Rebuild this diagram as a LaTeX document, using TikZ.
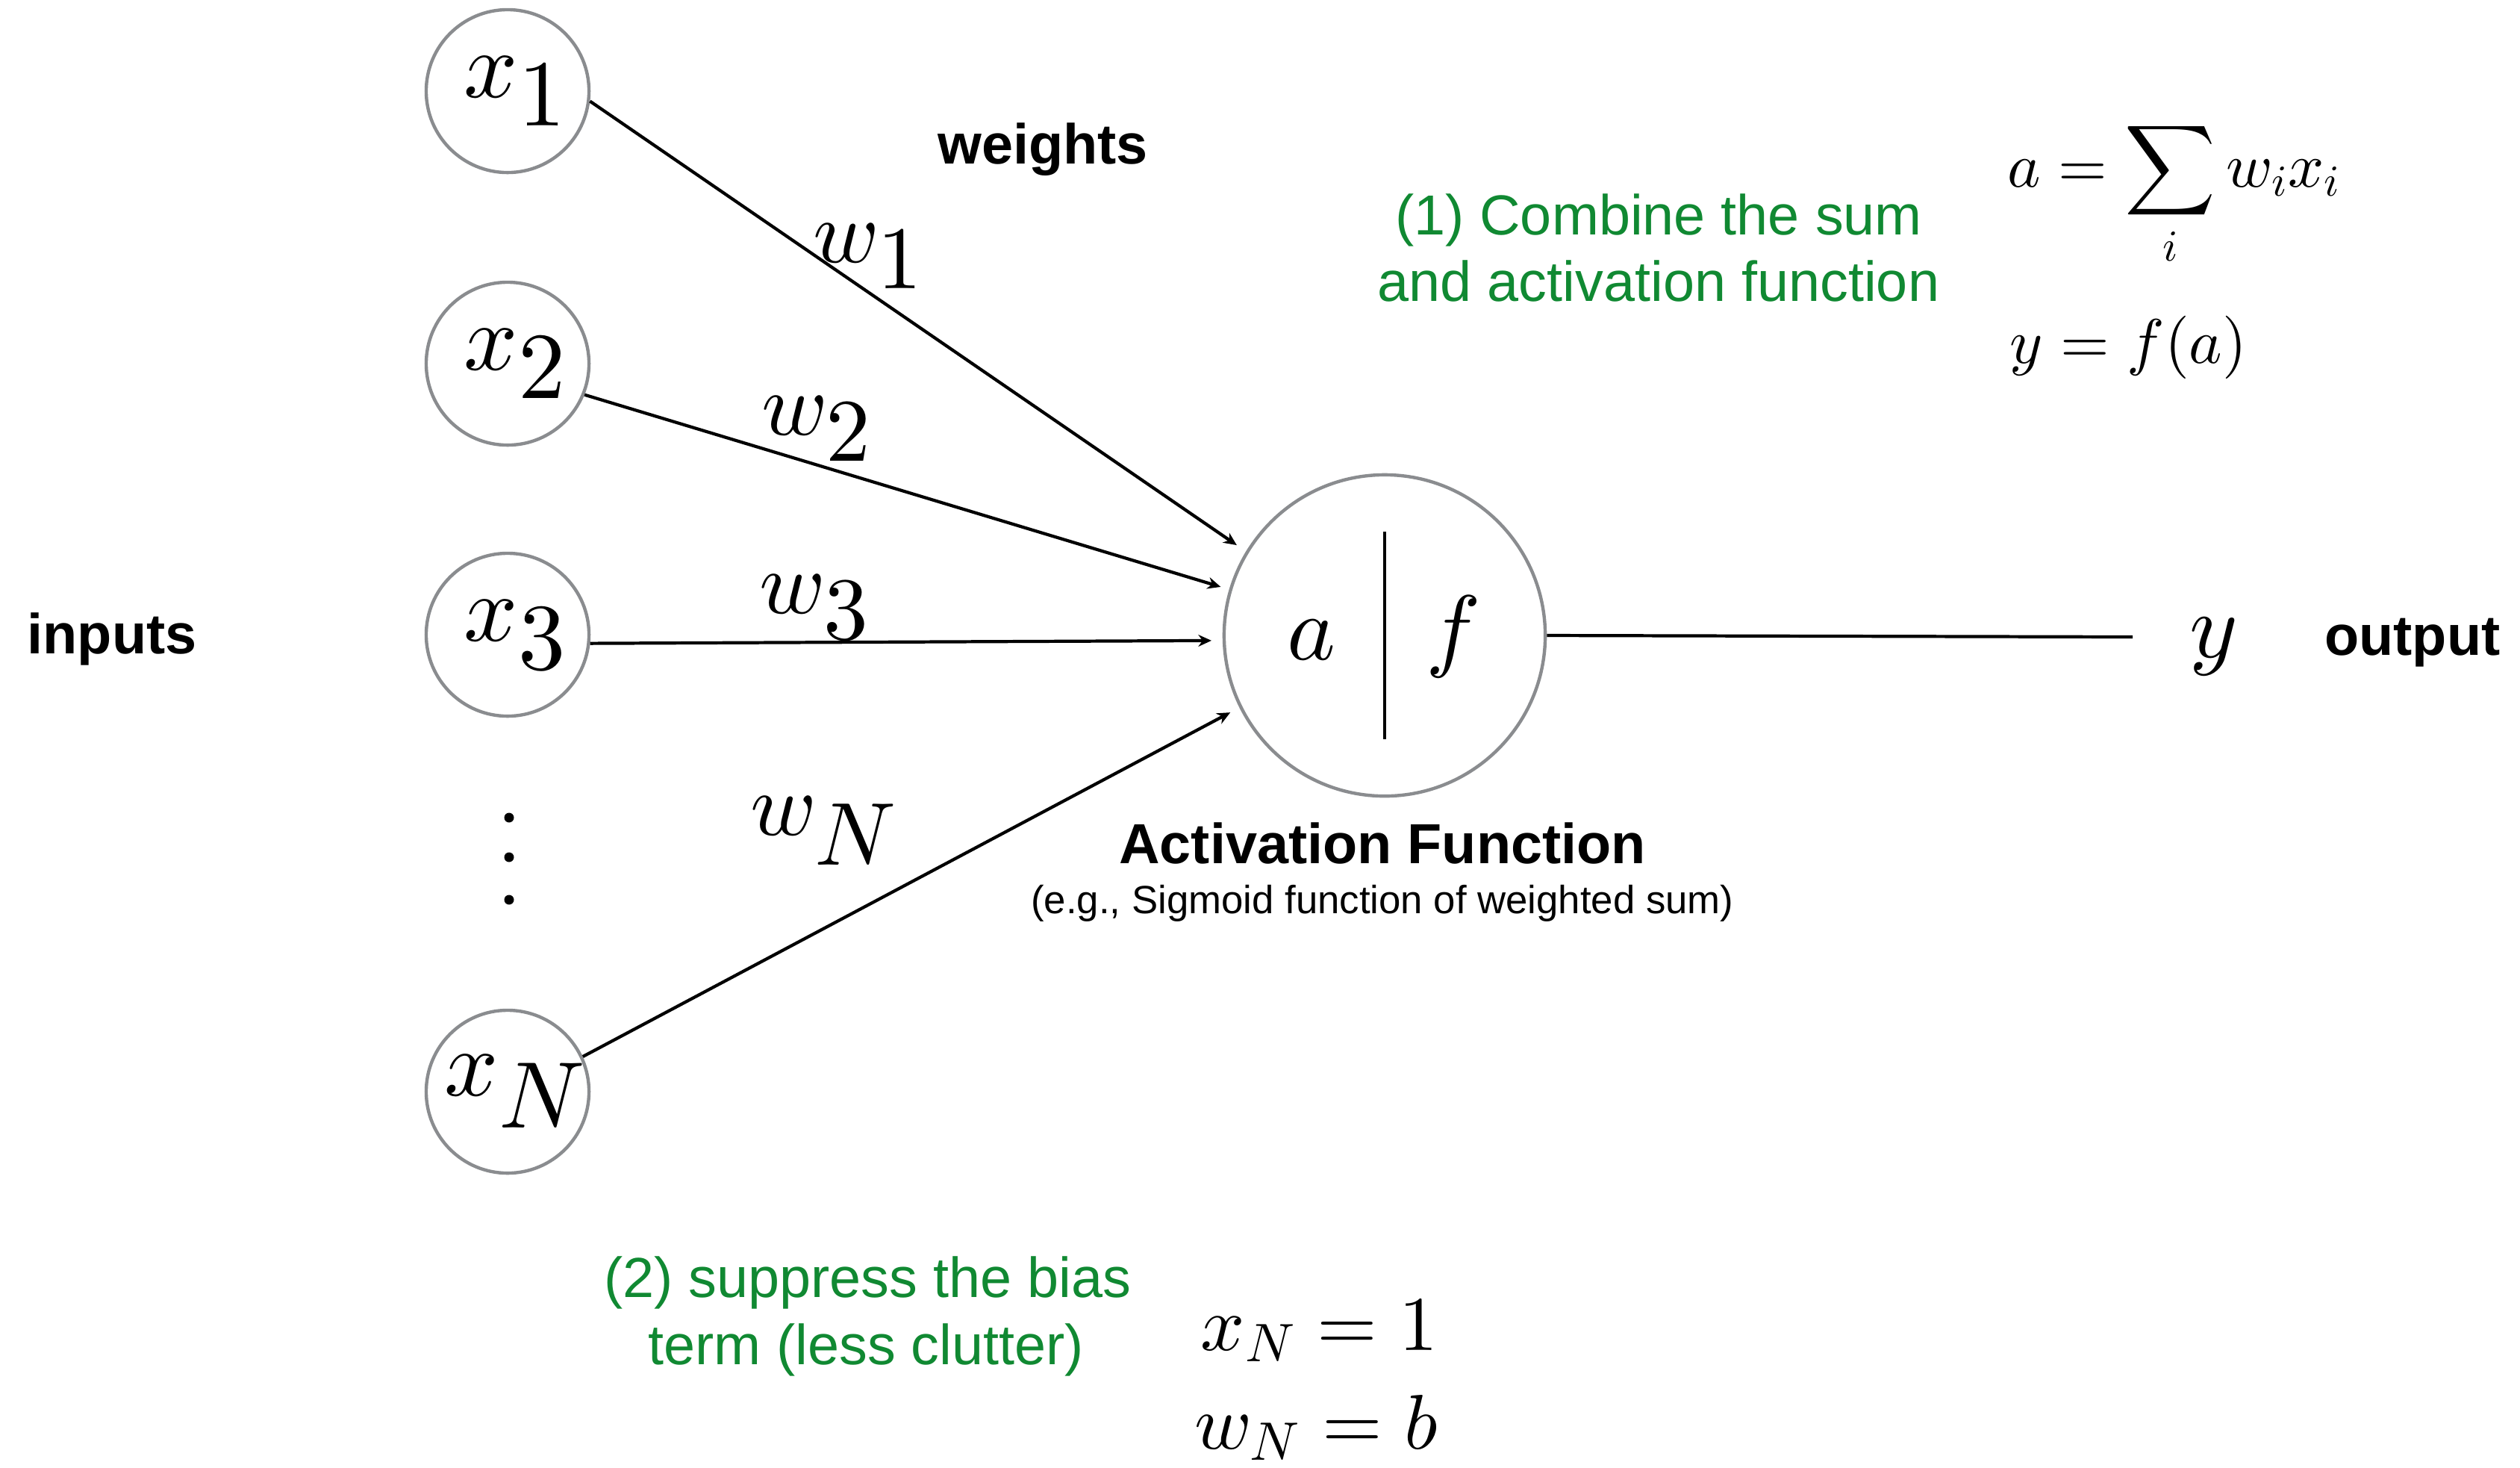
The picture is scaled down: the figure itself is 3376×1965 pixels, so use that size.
\documentclass[tikz,border=0pt]{standalone}
\usepackage{fontspec}
\setmainfont{Liberation Sans}
\DeclareFontShape{OML}{cmm}{m}{it}{<->cmmi10}{}
\DeclareFontShape{OMS}{cmsy}{m}{n}{<->cmsy10}{}
\DeclareFontShape{OMX}{cmex}{m}{n}{<->cmex10}{}
\DeclareFontShape{OT1}{cmr}{m}{n}{<->cmr10}{}
\usetikzlibrary{arrows.meta,calc}
\definecolor{cgray}{RGB}{138,140,143}
\definecolor{cgreen}{RGB}{16,137,50}
\newcommand{\inlab}[1]{\makebox[0pt][c]{$\mkern3mu x_{\textstyle #1}$}}
\begin{document}
\begin{tikzpicture}[x=0.01cm,y=-0.01cm,
  inp/.style={circle,draw=cgray,line width=1.25pt,minimum size=2.18cm,inner sep=0pt,font=\fontsize{36}{42}\selectfont},
  neuron/.style={circle,draw=cgray,line width=1.25pt,minimum size=4.3cm,inner sep=0pt},
  bigmath/.style={inner sep=0pt,font=\fontsize{35}{42}\selectfont},
  wl/.style={inner sep=0pt,font=\fontsize{34}{40}\selectfont},
  conn/.style={line width=1.2pt},
  arr/.style={line width=1.2pt,-{Stealth[length=5pt,width=4.5pt]}},
  lbl/.style={inner sep=0pt,font=\fontsize{21.5}{26}\selectfont\bfseries},
  subl/.style={inner sep=0pt,font=\fontsize{15}{18}\selectfont},
  grn/.style={inner sep=0pt,text=cgreen,font=\fontsize{21.5}{26}\selectfont},
  fml/.style={inner sep=0pt,font=\fontsize{24}{30}\selectfont},
  fmlb/.style={inner sep=0pt,font=\fontsize{29.5}{35}\selectfont}]
\useasboundingbox (0,0) rectangle (3376,1965);
% input nodes
\node[inp] (x1) at (680,122) {\inlab{1}};
\node[inp] (x2) at (680,487) {\inlab{2}};
\node[inp] (x3) at (680,850) {\inlab{3}};
\node[inp] (xN) at (680,1462) {\inlab{N}};
\foreach \yy in {1095,1148,1205} \fill (682,\yy) circle (0.065cm);
% neuron
\node[neuron] (n) at (1855,851) {};
\node[bigmath,anchor=base] (a) at (1757,883) {$a$};
\node[bigmath,anchor=base] (f) at (1947,883) {$f$};
\draw[conn] ($(n.center)+(0,-139)$) -- ($(n.center)+(0,139)$);
% output
\node[bigmath,anchor=base] (y) at (2966,880) {$y$};
\coordinate (oend) at (2857,853);
\draw[conn] (n.east) -- (oend);
% arrows
\draw[arr] (x1.-7.7) -- ($(n.center)+(148.6:2.32cm)$);
\draw[arr] (x2.-22.7) -- ($(n.center)+(163.5:2.29cm)$);
\draw[arr] (x3.-6.7) -- ($(n.center)+(181.7:2.32cm)$);
\draw[arr] (xN.25.4) -- ($(n.center)+(206.5:2.31cm)$);
% weight labels
\node[wl,anchor=base west] (w1) at (1089,351) {$w_{\textstyle 1}$};
\node[wl,anchor=base west] (w2) at (1020,582) {$w_{\textstyle 2}$};
\node[wl,anchor=base west] (w3) at (1017,821) {$w_{\textstyle 3}$};
\node[wl,anchor=base west] (wN) at (1005,1118) {$w_{\textstyle N}$};
% text labels
\node[lbl,anchor=base west] (inputs) at (36,875) {inputs};
\node[lbl,anchor=base east] (output) at (3350,877) {output};
\node[lbl,anchor=base] (weights) at (1397,219) {weights};
\node[lbl,anchor=base] (actf) at (1852,1156) {Activation Function};
\node[subl,anchor=base] (eg) at (1852,1223) {(e.g., Sigmoid function of weighted sum)};
\node[grn,anchor=base] (c1a) at (2222,314) {(1) Combine the sum};
\node[grn,anchor=base] (c1b) at (2222,403) {and activation function};
\node[grn,anchor=base] (c2a) at (1162,1737) {(2) suppress the bias};
\node[grn,anchor=base] (c2b) at (1160,1827) {term (less clutter)};
% formulas
\node[fml,anchor=base west] (fa) at (2689,250) {$\displaystyle a=\sum_i w_ix_i$};
\node[fml,anchor=base west] (fy) at (2692,486) {$y=f(a)$};
\node[fmlb,anchor=base west] (fxn) at (1608,1808) {$x_N=1$};
\node[fmlb,anchor=base west] (fwn) at (1600,1940) {$w_N=b$};
\end{tikzpicture}
\end{document}
